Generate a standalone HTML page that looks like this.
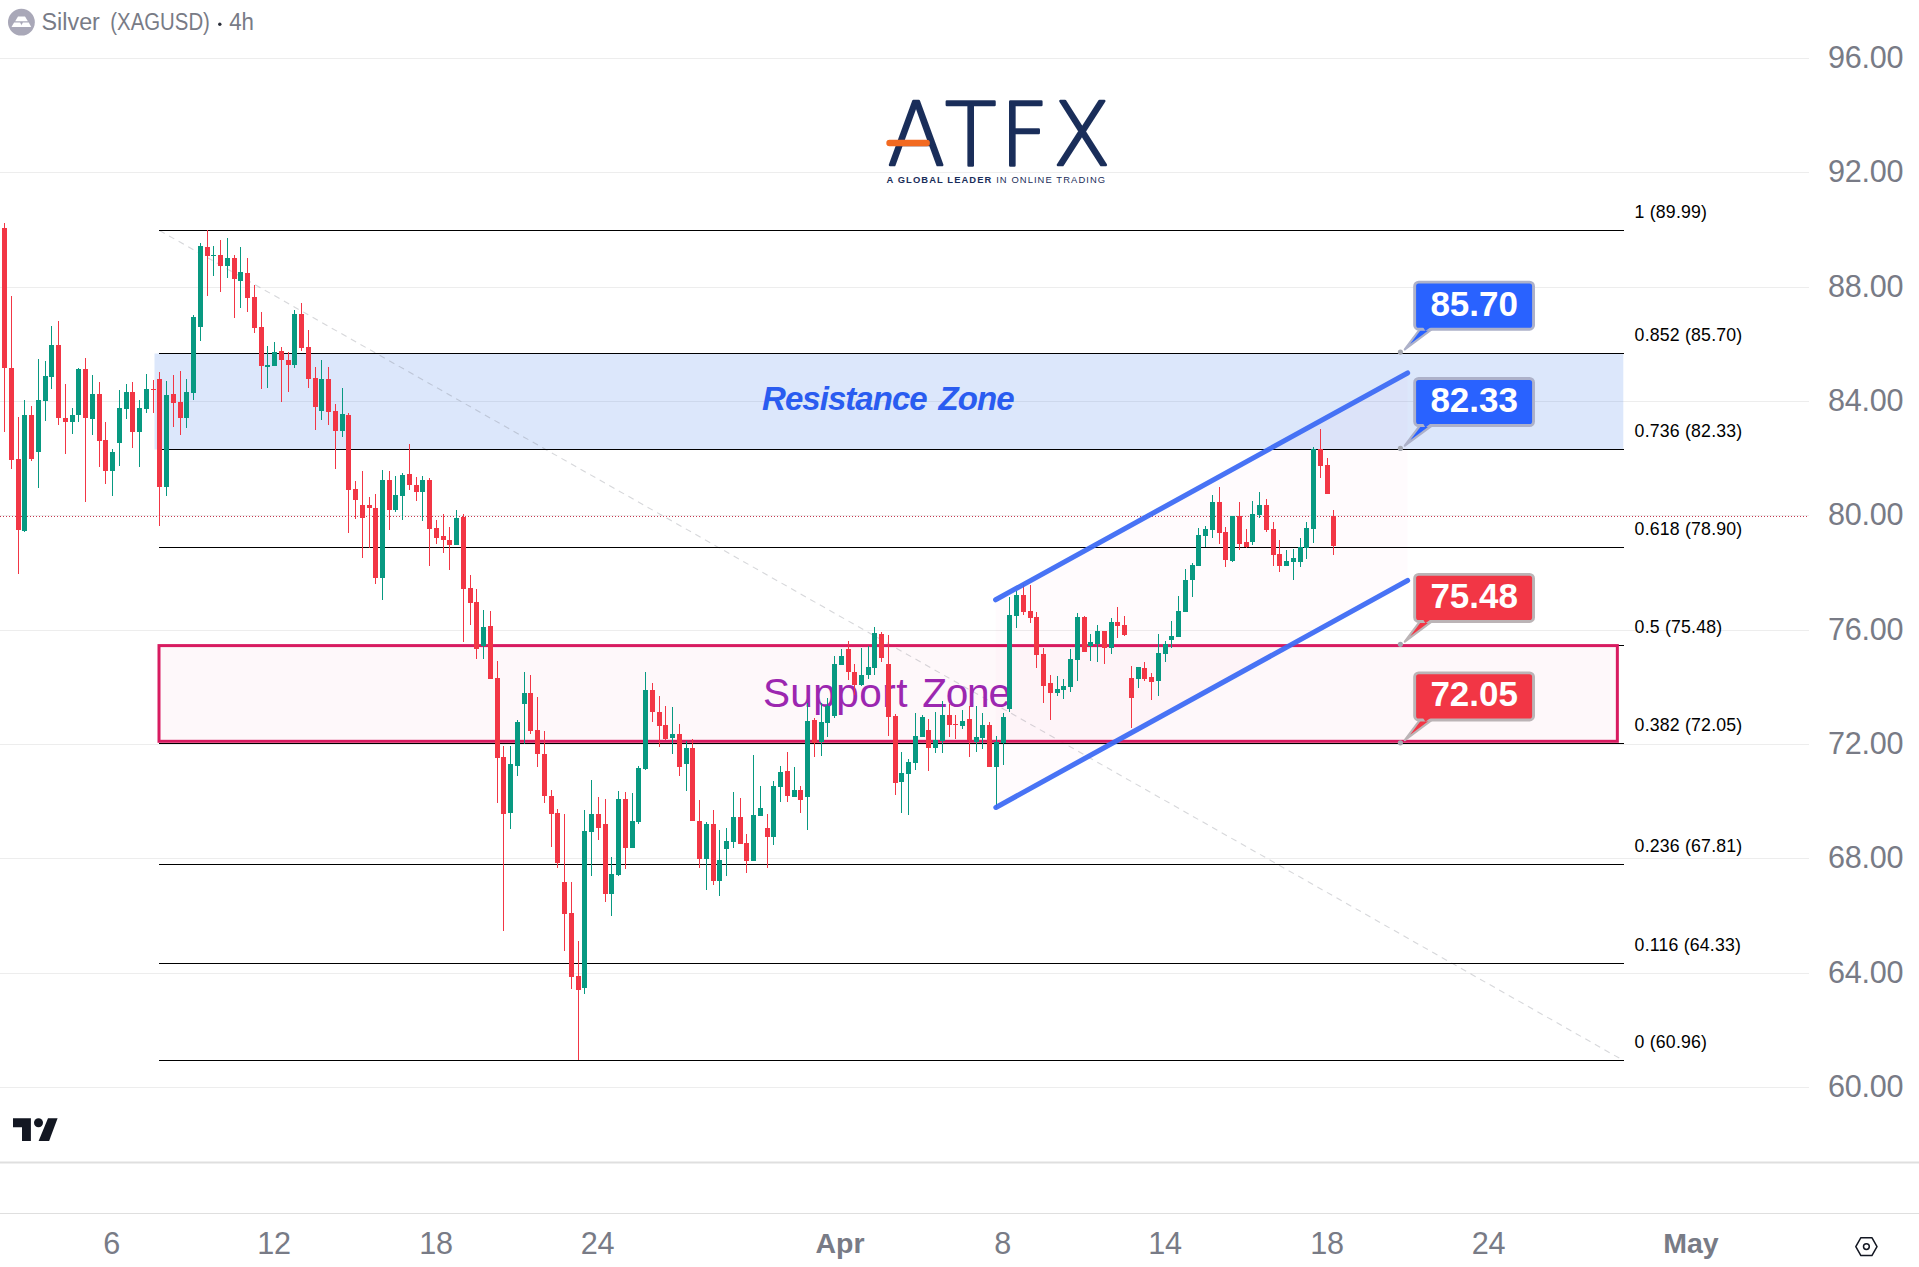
<!DOCTYPE html>
<html lang="en"><head><meta charset="utf-8"><title>Silver (XAGUSD) 4h</title>
<style>
html,body{margin:0;padding:0;background:#fff;}
body{width:1919px;height:1267px;overflow:hidden;position:relative;font-family:"Liberation Sans","DejaVu Sans",sans-serif;}
#chart{position:absolute;left:0;top:0;width:1919px;height:1267px;display:block;}
text{font-family:"Liberation Sans","DejaVu Sans",sans-serif;}
.ax{font-size:30.6px;fill:#787b86;letter-spacing:-0.3px;}
.axb{font-size:28.5px;fill:#787b86;font-weight:bold;}
.fib{font-size:17.7px;fill:#000;letter-spacing:0.2px;}
.co{font-size:35px;font-weight:bold;fill:#fff;}
</style></head><body>
<svg id="chart" width="1919" height="1267" viewBox="0 0 1919 1267">
<rect x="0" y="0" width="1919" height="1267" fill="#ffffff"/>
<g fill="#ededed">
<rect x="0" y="1087" width="1809" height="1"/>
<rect x="0" y="973" width="1809" height="1"/>
<rect x="0" y="858" width="1809" height="1"/>
<rect x="0" y="744" width="1809" height="1"/>
<rect x="0" y="630" width="1809" height="1"/>
<rect x="0" y="515" width="1809" height="1"/>
<rect x="0" y="401" width="1809" height="1"/>
<rect x="0" y="287" width="1809" height="1"/>
<rect x="0" y="172" width="1809" height="1"/>
<rect x="0" y="58" width="1809" height="1"/>
</g>
<rect x="0" y="1161.5" width="1919" height="2" fill="#dfdfdf"/>
<rect x="0" y="1213" width="1919" height="1" fill="#dfdfdf"/>
<rect x="154.5" y="353.5" width="1468.8" height="96.0" fill="#4682eb" fill-opacity="0.19"/>
<polygon points="995.6,599.8 1407.6,372.9 1407.6,580.5 995.9,807.4" fill="#e91e63" fill-opacity="0.014"/>
<rect x="159" y="645.6" width="1458.35" height="95.7" fill="#e91e63" fill-opacity="0.033"/>
<line x1="159.5" y1="230.5" x2="1623.5" y2="1060.5" stroke="#787b86" stroke-opacity="0.3" stroke-width="1.1" stroke-dasharray="6 5"/>
<g fill="#000">
<rect x="159" y="230" width="1465" height="1"/>
<rect x="159" y="353" width="1465" height="1"/>
<rect x="159" y="449" width="1465" height="1"/>
<rect x="159" y="547" width="1465" height="1"/>
<rect x="159" y="645" width="1465" height="1"/>
<rect x="159" y="743" width="1465" height="1"/>
<rect x="159" y="864" width="1465" height="1"/>
<rect x="159" y="963" width="1465" height="1"/>
<rect x="159" y="1060" width="1465" height="1"/>
</g>
<rect x="159" y="645.6" width="1458.35" height="95.7" fill="none" stroke="#d81b60" stroke-width="3"/>
<text x="762" y="410" font-size="33" letter-spacing="-0.95" style="word-spacing:3.6px" font-weight="bold" font-style="italic" fill="#2a5cf0" id="rz">Resistance Zone</text>
<text y="707" font-size="40.6" fill="#9c27b0" id="sz"><tspan x="762.9" letter-spacing="0.4">Support</tspan><tspan x="912.4" letter-spacing="-1.3"> Zone</tspan></text>
<line x1="0" y1="516.5" x2="1808" y2="516.5" stroke="#c7384f" stroke-width="1" stroke-dasharray="1 2"/>
<g id="candles" shape-rendering="crispEdges">
<rect x="4" y="223" width="1" height="209" fill="#f23645"/><rect x="2" y="228" width="5" height="140" fill="#f23645"/>
<rect x="11" y="296" width="1" height="173" fill="#f23645"/><rect x="9" y="368" width="5" height="92" fill="#f23645"/>
<rect x="18" y="417" width="1" height="157" fill="#f23645"/><rect x="16" y="459" width="5" height="71" fill="#f23645"/>
<rect x="24" y="400" width="1" height="132" fill="#089981"/><rect x="22" y="415" width="5" height="116" fill="#089981"/>
<rect x="31" y="406" width="1" height="55" fill="#f23645"/><rect x="29" y="415" width="5" height="44" fill="#f23645"/>
<rect x="38" y="359" width="1" height="129" fill="#089981"/><rect x="36" y="400" width="5" height="52" fill="#089981"/>
<rect x="45" y="361" width="1" height="60" fill="#089981"/><rect x="43" y="376" width="5" height="25" fill="#089981"/>
<rect x="51" y="326" width="1" height="63" fill="#089981"/><rect x="49" y="345" width="5" height="32" fill="#089981"/>
<rect x="58" y="321" width="1" height="104" fill="#f23645"/><rect x="56" y="345" width="5" height="73" fill="#f23645"/>
<rect x="65" y="384" width="1" height="70" fill="#f23645"/><rect x="63" y="418" width="5" height="4" fill="#f23645"/>
<rect x="72" y="408" width="1" height="26" fill="#089981"/><rect x="70" y="415" width="5" height="7" fill="#089981"/>
<rect x="78" y="368" width="1" height="54" fill="#089981"/><rect x="76" y="369" width="5" height="46" fill="#089981"/>
<rect x="85" y="358" width="1" height="144" fill="#f23645"/><rect x="83" y="369" width="5" height="49" fill="#f23645"/>
<rect x="92" y="375" width="1" height="60" fill="#089981"/><rect x="90" y="394" width="5" height="25" fill="#089981"/>
<rect x="99" y="382" width="1" height="85" fill="#f23645"/><rect x="97" y="394" width="5" height="47" fill="#f23645"/>
<rect x="105" y="422" width="1" height="62" fill="#f23645"/><rect x="103" y="440" width="5" height="31" fill="#f23645"/>
<rect x="112" y="449" width="1" height="47" fill="#089981"/><rect x="110" y="452" width="5" height="19" fill="#089981"/>
<rect x="119" y="390" width="1" height="76" fill="#089981"/><rect x="117" y="408" width="5" height="35" fill="#089981"/>
<rect x="126" y="384" width="1" height="35" fill="#089981"/><rect x="124" y="392" width="5" height="17" fill="#089981"/>
<rect x="132" y="382" width="1" height="66" fill="#f23645"/><rect x="130" y="392" width="5" height="40" fill="#f23645"/>
<rect x="139" y="400" width="1" height="67" fill="#089981"/><rect x="137" y="408" width="5" height="24" fill="#089981"/>
<rect x="146" y="374" width="1" height="39" fill="#089981"/><rect x="144" y="389" width="5" height="20" fill="#089981"/>
<rect x="153" y="380" width="1" height="33" fill="#f23645"/><rect x="151" y="389" width="5" height="1" fill="#f23645"/>
<rect x="159" y="372" width="1" height="154" fill="#f23645"/><rect x="157" y="379" width="5" height="108" fill="#f23645"/>
<rect x="166" y="381" width="1" height="115" fill="#089981"/><rect x="164" y="395" width="5" height="92" fill="#089981"/>
<rect x="173" y="375" width="1" height="52" fill="#f23645"/><rect x="171" y="394" width="5" height="9" fill="#f23645"/>
<rect x="180" y="371" width="1" height="64" fill="#f23645"/><rect x="178" y="402" width="5" height="16" fill="#f23645"/>
<rect x="186" y="379" width="1" height="49" fill="#089981"/><rect x="184" y="392" width="5" height="26" fill="#089981"/>
<rect x="193" y="315" width="1" height="85" fill="#089981"/><rect x="191" y="317" width="5" height="76" fill="#089981"/>
<rect x="200" y="243" width="1" height="98" fill="#089981"/><rect x="198" y="246" width="5" height="81" fill="#089981"/>
<rect x="207" y="230" width="1" height="66" fill="#f23645"/><rect x="205" y="247" width="5" height="9" fill="#f23645"/>
<rect x="213" y="246" width="1" height="30" fill="#089981"/><rect x="211" y="255" width="5" height="1" fill="#089981"/>
<rect x="220" y="240" width="1" height="52" fill="#f23645"/><rect x="218" y="255" width="5" height="11" fill="#f23645"/>
<rect x="227" y="238" width="1" height="40" fill="#089981"/><rect x="225" y="258" width="5" height="8" fill="#089981"/>
<rect x="234" y="255" width="1" height="63" fill="#f23645"/><rect x="232" y="258" width="5" height="21" fill="#f23645"/>
<rect x="240" y="247" width="1" height="61" fill="#089981"/><rect x="238" y="272" width="5" height="9" fill="#089981"/>
<rect x="247" y="258" width="1" height="54" fill="#f23645"/><rect x="245" y="273" width="5" height="25" fill="#f23645"/>
<rect x="254" y="285" width="1" height="48" fill="#f23645"/><rect x="252" y="297" width="5" height="31" fill="#f23645"/>
<rect x="261" y="312" width="1" height="77" fill="#f23645"/><rect x="259" y="327" width="5" height="39" fill="#f23645"/>
<rect x="267" y="346" width="1" height="42" fill="#089981"/><rect x="265" y="365" width="5" height="2" fill="#089981"/>
<rect x="274" y="342" width="1" height="24" fill="#089981"/><rect x="272" y="352" width="5" height="14" fill="#089981"/>
<rect x="281" y="347" width="1" height="55" fill="#f23645"/><rect x="279" y="351" width="5" height="9" fill="#f23645"/>
<rect x="288" y="352" width="1" height="40" fill="#f23645"/><rect x="286" y="360" width="5" height="5" fill="#f23645"/>
<rect x="294" y="310" width="1" height="58" fill="#089981"/><rect x="292" y="314" width="5" height="51" fill="#089981"/>
<rect x="301" y="303" width="1" height="48" fill="#f23645"/><rect x="299" y="314" width="5" height="34" fill="#f23645"/>
<rect x="308" y="330" width="1" height="58" fill="#f23645"/><rect x="306" y="347" width="5" height="32" fill="#f23645"/>
<rect x="315" y="367" width="1" height="63" fill="#f23645"/><rect x="313" y="378" width="5" height="29" fill="#f23645"/>
<rect x="321" y="360" width="1" height="60" fill="#089981"/><rect x="319" y="379" width="5" height="32" fill="#089981"/>
<rect x="328" y="367" width="1" height="58" fill="#f23645"/><rect x="326" y="379" width="5" height="33" fill="#f23645"/>
<rect x="335" y="404" width="1" height="65" fill="#f23645"/><rect x="333" y="411" width="5" height="20" fill="#f23645"/>
<rect x="342" y="388" width="1" height="49" fill="#089981"/><rect x="340" y="414" width="5" height="17" fill="#089981"/>
<rect x="348" y="413" width="1" height="120" fill="#f23645"/><rect x="346" y="415" width="5" height="75" fill="#f23645"/>
<rect x="355" y="481" width="1" height="38" fill="#f23645"/><rect x="353" y="489" width="5" height="11" fill="#f23645"/>
<rect x="362" y="471" width="1" height="87" fill="#f23645"/><rect x="360" y="505" width="5" height="13" fill="#f23645"/>
<rect x="369" y="497" width="1" height="51" fill="#f23645"/><rect x="367" y="505" width="5" height="3" fill="#f23645"/>
<rect x="375" y="494" width="1" height="90" fill="#f23645"/><rect x="373" y="508" width="5" height="70" fill="#f23645"/>
<rect x="382" y="470" width="1" height="130" fill="#089981"/><rect x="380" y="480" width="5" height="98" fill="#089981"/>
<rect x="389" y="471" width="1" height="59" fill="#f23645"/><rect x="387" y="480" width="5" height="30" fill="#f23645"/>
<rect x="395" y="476" width="1" height="36" fill="#089981"/><rect x="393" y="495" width="5" height="15" fill="#089981"/>
<rect x="402" y="473" width="1" height="47" fill="#089981"/><rect x="400" y="475" width="5" height="21" fill="#089981"/>
<rect x="409" y="444" width="1" height="46" fill="#f23645"/><rect x="407" y="474" width="5" height="11" fill="#f23645"/>
<rect x="416" y="477" width="1" height="24" fill="#f23645"/><rect x="414" y="485" width="5" height="7" fill="#f23645"/>
<rect x="422" y="476" width="1" height="45" fill="#089981"/><rect x="420" y="480" width="5" height="12" fill="#089981"/>
<rect x="429" y="478" width="1" height="88" fill="#f23645"/><rect x="427" y="480" width="5" height="49" fill="#f23645"/>
<rect x="436" y="520" width="1" height="24" fill="#f23645"/><rect x="434" y="528" width="5" height="10" fill="#f23645"/>
<rect x="443" y="514" width="1" height="39" fill="#f23645"/><rect x="441" y="536" width="5" height="4" fill="#f23645"/>
<rect x="449" y="527" width="1" height="43" fill="#f23645"/><rect x="447" y="540" width="5" height="5" fill="#f23645"/>
<rect x="456" y="510" width="1" height="35" fill="#089981"/><rect x="454" y="518" width="5" height="27" fill="#089981"/>
<rect x="463" y="514" width="1" height="128" fill="#f23645"/><rect x="461" y="517" width="5" height="72" fill="#f23645"/>
<rect x="470" y="575" width="1" height="50" fill="#f23645"/><rect x="468" y="588" width="5" height="15" fill="#f23645"/>
<rect x="476" y="589" width="1" height="70" fill="#f23645"/><rect x="474" y="602" width="5" height="47" fill="#f23645"/>
<rect x="483" y="610" width="1" height="49" fill="#089981"/><rect x="481" y="627" width="5" height="19" fill="#089981"/>
<rect x="490" y="611" width="1" height="68" fill="#f23645"/><rect x="488" y="626" width="5" height="53" fill="#f23645"/>
<rect x="497" y="661" width="1" height="142" fill="#f23645"/><rect x="495" y="678" width="5" height="80" fill="#f23645"/>
<rect x="503" y="746" width="1" height="185" fill="#f23645"/><rect x="501" y="757" width="5" height="57" fill="#f23645"/>
<rect x="510" y="746" width="1" height="83" fill="#089981"/><rect x="508" y="764" width="5" height="49" fill="#089981"/>
<rect x="517" y="720" width="1" height="56" fill="#089981"/><rect x="515" y="722" width="5" height="44" fill="#089981"/>
<rect x="524" y="672" width="1" height="72" fill="#089981"/><rect x="522" y="693" width="5" height="11" fill="#089981"/>
<rect x="530" y="675" width="1" height="59" fill="#f23645"/><rect x="528" y="693" width="5" height="38" fill="#f23645"/>
<rect x="537" y="697" width="1" height="70" fill="#f23645"/><rect x="535" y="730" width="5" height="24" fill="#f23645"/>
<rect x="544" y="731" width="1" height="72" fill="#f23645"/><rect x="542" y="754" width="5" height="42" fill="#f23645"/>
<rect x="551" y="790" width="1" height="57" fill="#f23645"/><rect x="549" y="796" width="5" height="18" fill="#f23645"/>
<rect x="557" y="809" width="1" height="59" fill="#f23645"/><rect x="555" y="813" width="5" height="50" fill="#f23645"/>
<rect x="564" y="814" width="1" height="137" fill="#f23645"/><rect x="562" y="882" width="5" height="32" fill="#f23645"/>
<rect x="571" y="882" width="1" height="107" fill="#f23645"/><rect x="569" y="913" width="5" height="64" fill="#f23645"/>
<rect x="578" y="941" width="1" height="119" fill="#f23645"/><rect x="576" y="976" width="5" height="14" fill="#f23645"/>
<rect x="584" y="810" width="1" height="184" fill="#089981"/><rect x="582" y="831" width="5" height="157" fill="#089981"/>
<rect x="591" y="780" width="1" height="96" fill="#089981"/><rect x="589" y="814" width="5" height="18" fill="#089981"/>
<rect x="598" y="797" width="1" height="43" fill="#f23645"/><rect x="596" y="814" width="5" height="14" fill="#f23645"/>
<rect x="605" y="799" width="1" height="103" fill="#f23645"/><rect x="603" y="824" width="5" height="70" fill="#f23645"/>
<rect x="611" y="857" width="1" height="59" fill="#089981"/><rect x="609" y="874" width="5" height="20" fill="#089981"/>
<rect x="618" y="791" width="1" height="85" fill="#089981"/><rect x="616" y="799" width="5" height="76" fill="#089981"/>
<rect x="625" y="792" width="1" height="77" fill="#f23645"/><rect x="623" y="799" width="5" height="49" fill="#f23645"/>
<rect x="632" y="793" width="1" height="55" fill="#089981"/><rect x="630" y="821" width="5" height="27" fill="#089981"/>
<rect x="638" y="766" width="1" height="58" fill="#089981"/><rect x="636" y="768" width="5" height="54" fill="#089981"/>
<rect x="645" y="672" width="1" height="98" fill="#089981"/><rect x="643" y="690" width="5" height="79" fill="#089981"/>
<rect x="652" y="683" width="1" height="39" fill="#f23645"/><rect x="650" y="690" width="5" height="22" fill="#f23645"/>
<rect x="659" y="696" width="1" height="51" fill="#f23645"/><rect x="657" y="712" width="5" height="14" fill="#f23645"/>
<rect x="665" y="706" width="1" height="34" fill="#f23645"/><rect x="663" y="725" width="5" height="14" fill="#f23645"/>
<rect x="672" y="707" width="1" height="47" fill="#089981"/><rect x="670" y="734" width="5" height="4" fill="#089981"/>
<rect x="679" y="724" width="1" height="52" fill="#f23645"/><rect x="677" y="734" width="5" height="33" fill="#f23645"/>
<rect x="686" y="741" width="1" height="50" fill="#089981"/><rect x="684" y="748" width="5" height="16" fill="#089981"/>
<rect x="692" y="739" width="1" height="82" fill="#f23645"/><rect x="690" y="748" width="5" height="73" fill="#f23645"/>
<rect x="699" y="800" width="1" height="68" fill="#f23645"/><rect x="697" y="821" width="5" height="38" fill="#f23645"/>
<rect x="706" y="822" width="1" height="68" fill="#089981"/><rect x="704" y="824" width="5" height="35" fill="#089981"/>
<rect x="713" y="810" width="1" height="75" fill="#f23645"/><rect x="711" y="824" width="5" height="57" fill="#f23645"/>
<rect x="719" y="830" width="1" height="66" fill="#089981"/><rect x="717" y="860" width="5" height="21" fill="#089981"/>
<rect x="726" y="828" width="1" height="48" fill="#089981"/><rect x="724" y="841" width="5" height="8" fill="#089981"/>
<rect x="733" y="792" width="1" height="56" fill="#089981"/><rect x="731" y="817" width="5" height="25" fill="#089981"/>
<rect x="740" y="798" width="1" height="46" fill="#f23645"/><rect x="738" y="817" width="5" height="27" fill="#f23645"/>
<rect x="746" y="834" width="1" height="39" fill="#f23645"/><rect x="744" y="843" width="5" height="18" fill="#f23645"/>
<rect x="753" y="755" width="1" height="106" fill="#089981"/><rect x="751" y="815" width="5" height="46" fill="#089981"/>
<rect x="760" y="786" width="1" height="30" fill="#089981"/><rect x="758" y="808" width="5" height="8" fill="#089981"/>
<rect x="767" y="814" width="1" height="54" fill="#f23645"/><rect x="765" y="828" width="5" height="9" fill="#f23645"/>
<rect x="773" y="781" width="1" height="64" fill="#089981"/><rect x="771" y="786" width="5" height="51" fill="#089981"/>
<rect x="780" y="766" width="1" height="36" fill="#089981"/><rect x="778" y="772" width="5" height="15" fill="#089981"/>
<rect x="787" y="752" width="1" height="50" fill="#f23645"/><rect x="785" y="771" width="5" height="25" fill="#f23645"/>
<rect x="794" y="767" width="1" height="30" fill="#089981"/><rect x="792" y="790" width="5" height="7" fill="#089981"/>
<rect x="800" y="786" width="1" height="27" fill="#f23645"/><rect x="798" y="790" width="5" height="10" fill="#f23645"/>
<rect x="807" y="703" width="1" height="127" fill="#089981"/><rect x="805" y="721" width="5" height="76" fill="#089981"/>
<rect x="814" y="718" width="1" height="39" fill="#f23645"/><rect x="812" y="720" width="5" height="23" fill="#f23645"/>
<rect x="821" y="703" width="1" height="53" fill="#089981"/><rect x="819" y="722" width="5" height="20" fill="#089981"/>
<rect x="827" y="698" width="1" height="39" fill="#089981"/><rect x="825" y="706" width="5" height="17" fill="#089981"/>
<rect x="834" y="656" width="1" height="62" fill="#089981"/><rect x="832" y="664" width="5" height="52" fill="#089981"/>
<rect x="841" y="649" width="1" height="16" fill="#089981"/><rect x="839" y="656" width="5" height="9" fill="#089981"/>
<rect x="848" y="641" width="1" height="39" fill="#f23645"/><rect x="846" y="649" width="5" height="23" fill="#f23645"/>
<rect x="854" y="664" width="1" height="31" fill="#f23645"/><rect x="852" y="672" width="5" height="13" fill="#f23645"/>
<rect x="861" y="648" width="1" height="38" fill="#089981"/><rect x="859" y="675" width="5" height="10" fill="#089981"/>
<rect x="868" y="646" width="1" height="33" fill="#089981"/><rect x="866" y="667" width="5" height="8" fill="#089981"/>
<rect x="874" y="627" width="1" height="48" fill="#089981"/><rect x="872" y="633" width="5" height="35" fill="#089981"/>
<rect x="881" y="632" width="1" height="30" fill="#f23645"/><rect x="879" y="634" width="5" height="24" fill="#f23645"/>
<rect x="888" y="635" width="1" height="101" fill="#f23645"/><rect x="886" y="664" width="5" height="53" fill="#f23645"/>
<rect x="895" y="714" width="1" height="81" fill="#f23645"/><rect x="893" y="716" width="5" height="67" fill="#f23645"/>
<rect x="901" y="752" width="1" height="61" fill="#089981"/><rect x="899" y="773" width="5" height="9" fill="#089981"/>
<rect x="908" y="759" width="1" height="56" fill="#089981"/><rect x="906" y="762" width="5" height="12" fill="#089981"/>
<rect x="915" y="713" width="1" height="57" fill="#089981"/><rect x="913" y="736" width="5" height="27" fill="#089981"/>
<rect x="922" y="715" width="1" height="22" fill="#089981"/><rect x="920" y="717" width="5" height="20" fill="#089981"/>
<rect x="928" y="719" width="1" height="52" fill="#f23645"/><rect x="926" y="730" width="5" height="18" fill="#f23645"/>
<rect x="935" y="712" width="1" height="41" fill="#089981"/><rect x="933" y="740" width="5" height="8" fill="#089981"/>
<rect x="942" y="701" width="1" height="52" fill="#089981"/><rect x="940" y="715" width="5" height="26" fill="#089981"/>
<rect x="949" y="704" width="1" height="33" fill="#f23645"/><rect x="947" y="715" width="5" height="10" fill="#f23645"/>
<rect x="955" y="715" width="1" height="24" fill="#f23645"/><rect x="953" y="724" width="5" height="1" fill="#f23645"/>
<rect x="962" y="710" width="1" height="19" fill="#089981"/><rect x="960" y="721" width="5" height="5" fill="#089981"/>
<rect x="969" y="706" width="1" height="51" fill="#f23645"/><rect x="967" y="719" width="5" height="21" fill="#f23645"/>
<rect x="976" y="706" width="1" height="46" fill="#089981"/><rect x="974" y="737" width="5" height="5" fill="#089981"/>
<rect x="982" y="713" width="1" height="36" fill="#089981"/><rect x="980" y="725" width="5" height="13" fill="#089981"/>
<rect x="989" y="722" width="1" height="45" fill="#f23645"/><rect x="987" y="725" width="5" height="42" fill="#f23645"/>
<rect x="996" y="736" width="1" height="72" fill="#089981"/><rect x="994" y="742" width="5" height="25" fill="#089981"/>
<rect x="1003" y="713" width="1" height="52" fill="#089981"/><rect x="1001" y="717" width="5" height="26" fill="#089981"/>
<rect x="1009" y="597" width="1" height="115" fill="#089981"/><rect x="1007" y="615" width="5" height="94" fill="#089981"/>
<rect x="1016" y="591" width="1" height="37" fill="#089981"/><rect x="1014" y="595" width="5" height="21" fill="#089981"/>
<rect x="1023" y="584" width="1" height="31" fill="#f23645"/><rect x="1021" y="595" width="5" height="17" fill="#f23645"/>
<rect x="1030" y="585" width="1" height="38" fill="#f23645"/><rect x="1028" y="611" width="5" height="7" fill="#f23645"/>
<rect x="1036" y="612" width="1" height="56" fill="#f23645"/><rect x="1034" y="617" width="5" height="38" fill="#f23645"/>
<rect x="1043" y="648" width="1" height="55" fill="#f23645"/><rect x="1041" y="654" width="5" height="32" fill="#f23645"/>
<rect x="1050" y="675" width="1" height="45" fill="#f23645"/><rect x="1048" y="683" width="5" height="10" fill="#f23645"/>
<rect x="1057" y="676" width="1" height="20" fill="#089981"/><rect x="1055" y="689" width="5" height="4" fill="#089981"/>
<rect x="1063" y="679" width="1" height="20" fill="#089981"/><rect x="1061" y="686" width="5" height="4" fill="#089981"/>
<rect x="1070" y="649" width="1" height="43" fill="#089981"/><rect x="1068" y="659" width="5" height="28" fill="#089981"/>
<rect x="1077" y="613" width="1" height="68" fill="#089981"/><rect x="1075" y="617" width="5" height="43" fill="#089981"/>
<rect x="1084" y="616" width="1" height="36" fill="#f23645"/><rect x="1082" y="617" width="5" height="35" fill="#f23645"/>
<rect x="1090" y="634" width="1" height="27" fill="#089981"/><rect x="1088" y="642" width="5" height="4" fill="#089981"/>
<rect x="1097" y="625" width="1" height="37" fill="#089981"/><rect x="1095" y="631" width="5" height="13" fill="#089981"/>
<rect x="1104" y="631" width="1" height="33" fill="#f23645"/><rect x="1102" y="631" width="5" height="17" fill="#f23645"/>
<rect x="1111" y="618" width="1" height="36" fill="#089981"/><rect x="1109" y="622" width="5" height="26" fill="#089981"/>
<rect x="1117" y="607" width="1" height="31" fill="#f23645"/><rect x="1115" y="622" width="5" height="4" fill="#f23645"/>
<rect x="1124" y="616" width="1" height="20" fill="#f23645"/><rect x="1122" y="625" width="5" height="10" fill="#f23645"/>
<rect x="1131" y="666" width="1" height="62" fill="#f23645"/><rect x="1129" y="678" width="5" height="20" fill="#f23645"/>
<rect x="1138" y="667" width="1" height="21" fill="#089981"/><rect x="1136" y="667" width="5" height="12" fill="#089981"/>
<rect x="1144" y="662" width="1" height="19" fill="#f23645"/><rect x="1142" y="668" width="5" height="11" fill="#f23645"/>
<rect x="1151" y="673" width="1" height="27" fill="#f23645"/><rect x="1149" y="677" width="5" height="5" fill="#f23645"/>
<rect x="1158" y="634" width="1" height="62" fill="#089981"/><rect x="1156" y="653" width="5" height="28" fill="#089981"/>
<rect x="1165" y="641" width="1" height="21" fill="#089981"/><rect x="1163" y="644" width="5" height="10" fill="#089981"/>
<rect x="1171" y="621" width="1" height="27" fill="#089981"/><rect x="1169" y="636" width="5" height="4" fill="#089981"/>
<rect x="1178" y="596" width="1" height="41" fill="#089981"/><rect x="1176" y="611" width="5" height="26" fill="#089981"/>
<rect x="1185" y="569" width="1" height="43" fill="#089981"/><rect x="1183" y="580" width="5" height="32" fill="#089981"/>
<rect x="1192" y="563" width="1" height="34" fill="#089981"/><rect x="1190" y="565" width="5" height="15" fill="#089981"/>
<rect x="1198" y="528" width="1" height="38" fill="#089981"/><rect x="1196" y="535" width="5" height="31" fill="#089981"/>
<rect x="1205" y="526" width="1" height="21" fill="#089981"/><rect x="1203" y="529" width="5" height="7" fill="#089981"/>
<rect x="1212" y="495" width="1" height="43" fill="#089981"/><rect x="1210" y="502" width="5" height="28" fill="#089981"/>
<rect x="1219" y="487" width="1" height="57" fill="#f23645"/><rect x="1217" y="502" width="5" height="31" fill="#f23645"/>
<rect x="1225" y="527" width="1" height="40" fill="#f23645"/><rect x="1223" y="532" width="5" height="28" fill="#f23645"/>
<rect x="1232" y="516" width="1" height="46" fill="#089981"/><rect x="1230" y="516" width="5" height="45" fill="#089981"/>
<rect x="1239" y="502" width="1" height="48" fill="#f23645"/><rect x="1237" y="516" width="5" height="28" fill="#f23645"/>
<rect x="1246" y="529" width="1" height="19" fill="#f23645"/><rect x="1244" y="542" width="5" height="5" fill="#f23645"/>
<rect x="1252" y="501" width="1" height="44" fill="#089981"/><rect x="1250" y="514" width="5" height="28" fill="#089981"/>
<rect x="1259" y="492" width="1" height="26" fill="#089981"/><rect x="1257" y="505" width="5" height="10" fill="#089981"/>
<rect x="1266" y="499" width="1" height="33" fill="#f23645"/><rect x="1264" y="505" width="5" height="25" fill="#f23645"/>
<rect x="1273" y="522" width="1" height="44" fill="#f23645"/><rect x="1271" y="529" width="5" height="26" fill="#f23645"/>
<rect x="1279" y="540" width="1" height="32" fill="#f23645"/><rect x="1277" y="554" width="5" height="12" fill="#f23645"/>
<rect x="1286" y="550" width="1" height="16" fill="#089981"/><rect x="1284" y="561" width="5" height="5" fill="#089981"/>
<rect x="1293" y="549" width="1" height="31" fill="#089981"/><rect x="1291" y="558" width="5" height="4" fill="#089981"/>
<rect x="1300" y="538" width="1" height="29" fill="#089981"/><rect x="1298" y="547" width="5" height="15" fill="#089981"/>
<rect x="1306" y="522" width="1" height="37" fill="#089981"/><rect x="1304" y="528" width="5" height="20" fill="#089981"/>
<rect x="1313" y="447" width="1" height="96" fill="#089981"/><rect x="1311" y="449" width="5" height="80" fill="#089981"/>
<rect x="1320" y="429" width="1" height="49" fill="#f23645"/><rect x="1318" y="449" width="5" height="17" fill="#f23645"/>
<rect x="1327" y="458" width="1" height="36" fill="#f23645"/><rect x="1325" y="465" width="5" height="29" fill="#f23645"/>
<rect x="1333" y="510" width="1" height="45" fill="#f23645"/><rect x="1331" y="516" width="5" height="30" fill="#f23645"/>
</g>
<g stroke="#3d6af4" stroke-width="5.1" stroke-linecap="round" stroke-opacity="0.94">
<line x1="995.6" y1="599.8" x2="1407.6" y2="372.9"/>
<line x1="995.9" y1="807.4" x2="1407.6" y2="580.5"/>
</g>
<polygon points="1420.4,328.7 1432.6,328.7 1404.8,349.4" fill="#2962ff" stroke="#adb1c9" stroke-width="2.2" stroke-linejoin="round"/>
<circle cx="1400.4" cy="352.1" r="2.6" fill="#a4a7b0"/>
<rect x="1414.65" y="282.15" width="118.9" height="47.1" rx="4" fill="#2962ff" stroke="#adb1c9" stroke-width="2.9"/>
<polygon points="1422.8,326.7 1431.2,326.7 1425.4,331.1" fill="#2962ff"/>
<text class="co" x="1474.2" y="315.6" text-anchor="middle">85.70</text>
<polygon points="1420.4,425.0 1432.6,425.0 1404.8,445.7" fill="#2962ff" stroke="#adb1c9" stroke-width="2.2" stroke-linejoin="round"/>
<circle cx="1400.4" cy="448.4" r="2.6" fill="#a4a7b0"/>
<rect x="1414.65" y="378.45" width="118.9" height="47.1" rx="4" fill="#2962ff" stroke="#adb1c9" stroke-width="2.9"/>
<polygon points="1422.8,423.0 1431.2,423.0 1425.4,427.4" fill="#2962ff"/>
<text class="co" x="1474.2" y="411.9" text-anchor="middle">82.33</text>
<polygon points="1420.4,620.9 1432.6,620.9 1404.8,641.6" fill="#f23645" stroke="#bbb4b6" stroke-width="2.2" stroke-linejoin="round"/>
<circle cx="1400.4" cy="644.3" r="2.6" fill="#a4a7b0"/>
<rect x="1414.65" y="574.35" width="118.9" height="47.1" rx="4" fill="#f23645" stroke="#bbb4b6" stroke-width="2.9"/>
<polygon points="1422.8,618.9 1431.2,618.9 1425.4,623.3" fill="#f23645"/>
<text class="co" x="1474.2" y="607.8" text-anchor="middle">75.48</text>
<polygon points="1420.4,719.4 1432.6,719.4 1404.8,740.1" fill="#f23645" stroke="#bbb4b6" stroke-width="2.2" stroke-linejoin="round"/>
<circle cx="1400.4" cy="742.8" r="2.6" fill="#a4a7b0"/>
<rect x="1414.65" y="672.85" width="118.9" height="47.1" rx="4" fill="#f23645" stroke="#bbb4b6" stroke-width="2.9"/>
<polygon points="1422.8,717.4 1431.2,717.4 1425.4,721.8" fill="#f23645"/>
<text class="co" x="1474.2" y="706.3" text-anchor="middle">72.05</text>
<text class="fib" x="1634.6" y="217.7">1 (89.99)</text>
<text class="fib" x="1634.6" y="340.7">0.852 (85.70)</text>
<text class="fib" x="1634.6" y="436.7">0.736 (82.33)</text>
<text class="fib" x="1634.6" y="534.7">0.618 (78.90)</text>
<text class="fib" x="1634.6" y="632.7">0.5 (75.48)</text>
<text class="fib" x="1634.6" y="730.7">0.382 (72.05)</text>
<text class="fib" x="1634.6" y="851.7">0.236 (67.81)</text>
<text class="fib" x="1634.6" y="950.7">0.116 (64.33)</text>
<text class="fib" x="1634.6" y="1047.7">0 (60.96)</text>
<text class="ax" x="1903.1" y="1096.9" text-anchor="end">60.00</text>
<text class="ax" x="1903.1" y="982.9" text-anchor="end">64.00</text>
<text class="ax" x="1903.1" y="867.9" text-anchor="end">68.00</text>
<text class="ax" x="1903.1" y="753.9" text-anchor="end">72.00</text>
<text class="ax" x="1903.1" y="639.9" text-anchor="end">76.00</text>
<text class="ax" x="1903.1" y="524.9" text-anchor="end">80.00</text>
<text class="ax" x="1903.1" y="410.9" text-anchor="end">84.00</text>
<text class="ax" x="1903.1" y="296.9" text-anchor="end">88.00</text>
<text class="ax" x="1903.1" y="181.9" text-anchor="end">92.00</text>
<text class="ax" x="1903.1" y="67.9" text-anchor="end">96.00</text>
<text class="ax" x="111.5" y="1254.2" text-anchor="middle">6</text>
<text class="ax" x="274" y="1254.2" text-anchor="middle">12</text>
<text class="ax" x="436" y="1254.2" text-anchor="middle">18</text>
<text class="ax" x="597.5" y="1254.2" text-anchor="middle">24</text>
<text class="axb" x="840" y="1253.3" text-anchor="middle">Apr</text>
<text class="ax" x="1002.5" y="1254.2" text-anchor="middle">8</text>
<text class="ax" x="1165" y="1254.2" text-anchor="middle">14</text>
<text class="ax" x="1327" y="1254.2" text-anchor="middle">18</text>
<text class="ax" x="1488.5" y="1254.2" text-anchor="middle">24</text>
<text class="axb" x="1691" y="1253.3" text-anchor="middle">May</text>
<g fill="none" stroke="#131722" stroke-width="1.5" stroke-linejoin="round">
<polygon points="1855.8,1246.6 1860.9,1237.7 1871.9,1237.7 1877,1246.6 1871.9,1255.6 1860.9,1255.6"/>
<circle cx="1866.4" cy="1246.6" r="2.9"/>
</g>
<g fill="#131722">
<path d="M13 1118.3H30.9V1140.9H22V1127.3H13Z"/>
<circle cx="38.5" cy="1122.8" r="4.5"/>
<path d="M48 1118.3H57.6L49.1 1140.9H38.6Z"/>
</g>
<circle cx="21.4" cy="22.2" r="13.4" fill="#a9a8b8"/>
<g fill="#fff">
<path d="M18 16.4H25L27.9 21.2H15.2Z"/>
<path d="M14.1 22.4H20.1L22.5 26.9H11.5Z"/>
<path d="M22.9 22.4H28.8L31.2 26.9H20.4Z"/>
</g>
<text x="41.5" y="30.3" font-size="23" fill="#787b86" textLength="58.4" lengthAdjust="spacingAndGlyphs">Silver</text>
<text x="110.3" y="30.3" font-size="23" fill="#787b86" textLength="99.6" lengthAdjust="spacingAndGlyphs">(XAGUSD)</text>
<circle cx="219.8" cy="24.3" r="1.7" fill="#2a2e39"/>
<text x="229.2" y="30.3" font-size="23" fill="#787b86" textLength="24.8" lengthAdjust="spacingAndGlyphs">4h</text>
<text id="atfx" transform="scale(0.96,1)" x="924.6 984.3 1041.8 1096.8" y="165.2" font-size="87.6" font-weight="200" style="font-family:'DejaVu Sans','Liberation Sans',sans-serif" fill="#1a2e5a" stroke="#1a2e5a" stroke-width="2.6" stroke-linejoin="round">ATFX</text>
<rect x="886.3" y="139.7" width="43.6" height="6.5" rx="3.2" fill="#f26a21"/>
<text x="886.5" y="183.4" font-size="9.4" fill="#1a2e5a" textLength="218.6" lengthAdjust="spacing"><tspan font-weight="bold">A GLOBAL LEADER</tspan> IN ONLINE TRADING</text>
</svg>
</body></html>
